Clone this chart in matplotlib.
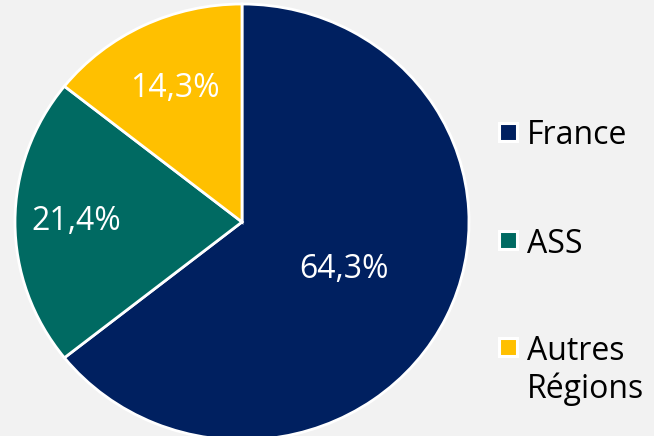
import matplotlib.pyplot as plt
import matplotlib.patches as mpatches
import numpy as np

plt.rcParams['font.family'] = ['Open Sans', 'DejaVu Sans']

categories = ['France', 'ASS', 'Autres\nRégions']
values = [64.3, 21.4, 14.3]
labels = ['64,3%', '21,4%', '14,3%']
couleurs = ['#002060', '#006A62', '#FFC000']
label_r = [0.50, 0.73, 0.68]

W, H = 654, 436
fig = plt.figure(figsize=[W / 100, H / 100], dpi=100)
fig.patch.set_facecolor('#F2F2F2')

# centre du camembert (242, 222) px, rayons 227 x 218 px
cx, cy, rx, ry = 242, 222, 227, 218
ax = fig.add_axes([(cx - rx) / W, (H - cy - ry) / H, 2 * rx / W, 2 * ry / H])
ax.set_facecolor('none')

wedges, texts = ax.pie(values, colors=couleurs, startangle=90, counterclock=False,
                       wedgeprops=dict(edgecolor='white', linewidth=2))
ax.set_xlim(-1, 1)
ax.set_ylim(-1, 1)
ax.set_aspect('auto')

for w, lab, r in zip(wedges, labels, label_r):
    ang = np.deg2rad((w.theta1 + w.theta2) / 2)
    ax.text(r * np.cos(ang), r * np.sin(ang), lab, color='white', fontsize=23,
            ha='center', va='center')

# legende manuelle
ligne_y = [132, 240, 347]
interligne = 38
for c, cat, y in zip(couleurs, categories, ligne_y):
    carre = mpatches.Rectangle((499 / W, (H - y - 9) / H), 18 / W, 18 / H,
                               transform=fig.transFigure, facecolor=c,
                               edgecolor='white', linewidth=2.2)
    fig.add_artist(carre)
    for i, ligne in enumerate(cat.split('\n')):
        fig.text(527 / W, (H - y - i * interligne) / H, ligne, fontsize=23,
                 ha='left', va='center_baseline', color='black')

plt.savefig('out.png', dpi=100, facecolor=fig.get_facecolor())
